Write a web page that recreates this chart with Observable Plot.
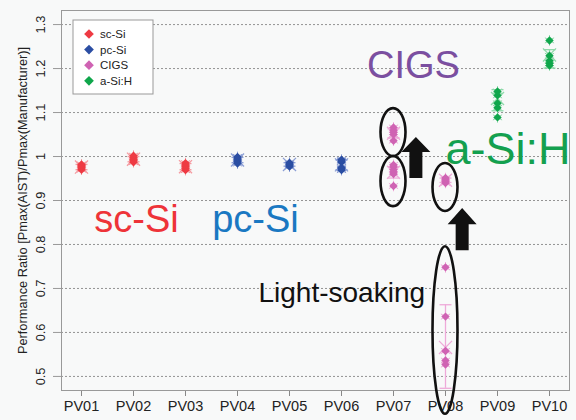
<!DOCTYPE html>
<html><head><meta charset="utf-8">
<script src="https://cdn.jsdelivr.net/npm/d3@7"></script>
<script src="https://cdn.jsdelivr.net/npm/@observablehq/plot@0.6"></script>
<style>
html,body{margin:0;padding:0;background:#f8f9f9;}
body{font-family:"Liberation Sans",Arial,sans-serif;}
</style></head><body><div id="chart"></div>
<script>
// ---------- data ----------
const pvNames = ["PV01","PV02","PV03","PV04","PV05","PV06","PV07","PV08","PV09","PV10"];
const typeNames = ["sc-Si","pc-Si","CIGS","a-Si:H"];
const typeColors = ["#ee3a43","#2b4ea3","#cf63b3","#0fa64b"];
const typeLight = ["#f59aa0","#8c9fd6","#eeaad9","#8fd9aa"];
const yTicks = [0.5,0.6,0.7,0.8,0.9,1.0,1.1,1.2,1.3];
const yTickLabels = ["0.5","0.6","0.7","0.8","0.9","1","1.1","1.2","1.3"];

// measurement groups (PV07 and PV08: before and after light-soaking)
const groupPV = ["PV01","PV02","PV03","PV04","PV05","PV06","PV07","PV07","PV08","PV08","PV09","PV10"];
const groupType = ["sc-Si","sc-Si","sc-Si","pc-Si","pc-Si","pc-Si","CIGS","CIGS","CIGS","CIGS","a-Si:H","a-Si:H"];
const groupValues = [
  [0.970,0.974,0.977,0.980,0.982],
  [0.987,0.991,0.994,0.998,1.002],
  [0.969,0.973,0.977,0.981,0.985],
  [0.984,0.988,0.992,0.996,0.999],
  [0.977,0.980,0.983,0.986],
  [0.969,0.972,0.975,0.987,0.990,0.993],
  [0.933,0.960,0.965,0.970,0.976,0.981],
  [1.036,1.050,1.055,1.060,1.066],
  [0.940,0.944,0.948,0.951],
  [0.748,0.636,0.558,0.536,0.527],
  [1.089,1.111,1.121,1.139,1.148],
  [1.207,1.212,1.218,1.229,1.264]
];
const barMean = [0.976,0.994,0.977,0.992,0.982,0.981,0.964,1.053,0.946,0.566,1.132,1.231];
const barLo   = [0.970,0.988,0.970,0.986,0.978,0.970,0.951,1.043,0.941,0.473,1.104,1.201];
const barHi   = [0.982,1.000,0.984,0.998,0.986,0.992,0.977,1.063,0.951,0.663,1.152,1.243];

// annotations
const annText  = ["sc-Si","pc-Si","CIGS","a-Si:H","Light-soaking"];
const annPV    = ["PV02","PV04","PV07","PV09","PV04"];
const annY     = [0.857,0.857,1.207,1.016,0.689];
const annColor = ["#ee3338","#1a78c2","#7b4fa0","#14a04f","#111111"];

// ellipses around clusters (value ranges)
const ellPV = ["PV07","PV07","PV08","PV08"];
const ellLo = [1.000,0.886,0.875,0.414];
const ellHi = [1.109,1.000,0.984,0.795];

// arrows (light-soaking improvement)
const arrowPV = ["PV07","PV08"];
const arrowOffset = [0.44,0.33];
const arrowTip  = [1.043,0.882];
const arrowNeck = [1.009,0.845];
const arrowBase = [0.950,0.786];

// ---------- build ----------
const colorOf = t => typeColors[typeNames.indexOf(t)];
const lightOf = t => typeLight[typeNames.indexOf(t)];
const points = [];
groupValues.forEach((vals,i) => vals.forEach(v => points.push({pv: groupPV[i], type: groupType[i], v})));
const bars = groupPV.map((pv,i) => ({pv, type: groupType[i], mean: barMean[i], lo: barLo[i], hi: barHi[i]}));
const capEnds = bars.flatMap(b => [{pv:b.pv,type:b.type,v:b.lo},{pv:b.pv,type:b.type,v:b.hi}]);
const hline = {draw(ctx,size){const w=Math.sqrt(size/Math.PI); ctx.moveTo(-w,0); ctx.lineTo(w,0);}};
const ann = i => [{t: annText[i], pv: annPV[i], y: annY[i], c: annColor[i]}];
const annOpts = [
  {fontSize: 38, dx: 3, textAnchor: "middle"},
  {fontSize: 38, dx: 18, textAnchor: "middle"},
  {fontSize: 38, dx: 20, textAnchor: "middle"},
  {fontSize: 45, dx: -52, textAnchor: "start"},
  {fontSize: 28, dx: 21, textAnchor: "start"}
];

const plot = Plot.plot({
  width: 576, height: 420,
  marginLeft: 61, marginRight: 7, marginTop: 10, marginBottom: 30,
  style: {background: "#f8f9f9", fontFamily: "'Liberation Sans', Arial, sans-serif", overflow: "visible"},
  x: {type: "point", domain: pvNames, padding: 0.36, label: null},
  y: {domain: [0.468, 1.332], label: null},
  marks: [
    Plot.ruleY(yTicks, {stroke: "#888", strokeDasharray: "2,2", strokeWidth: 0.9}),
    Plot.axisY(yTicks, {tickSize: 8, tickFormat: () => "", stroke: "#999", label: null}),
    Plot.text(yTicks, {y: d => d, text: d => yTickLabels[yTicks.indexOf(d)], frameAnchor: "left", textAnchor: "middle", dx: -21, rotate: -90, fontSize: 12.8, fill: "#222"}),
    Plot.text(["Performance Ratio [Pmax(AIST)/Pmax(Manufacturer)]"], {frameAnchor: "left", textAnchor: "middle", dx: -39, rotate: -90, fontSize: 12.8, fill: "#222"}),
    Plot.axisX({tickSize: 6, tickPadding: 4, fontSize: 14.5, stroke: "#888", color: "#222", label: null}),
    Plot.frame({stroke: "#999"}),
    Plot.ruleX(bars, {x: "pv", y1: "lo", y2: "hi", stroke: d => lightOf(d.type), strokeWidth: 1.3}),
    Plot.dot(capEnds, {x: "pv", y: "v", symbol: hline, r: 6, stroke: d => lightOf(d.type), strokeWidth: 1.3}),
    Plot.dot(points, {x: "pv", y: "v", symbol: "asterisk", r: 5, stroke: d => lightOf(d.type), strokeWidth: 1}),
    Plot.dot(bars, {x: "pv", y: "mean", symbol: "times", r: 6, stroke: d => lightOf(d.type), strokeWidth: 1.3}),
    Plot.dot(points, {x: "pv", y: "v", symbol: "diamond2", r: 3.8, fill: d => colorOf(d.type), stroke: "none"}),
    ...annText.map((t,i) => Plot.text(ann(i), {x: "pv", y: "y", text: "t", fill: "c", ...annOpts[i]}))
  ]
});

const sx = plot.scale("x"), sy = plot.scale("y");
const step = sx.apply("PV02") - sx.apply("PV01");
const svg = d3.select(plot);
const g = svg.append("g");
ellPV.forEach((pv,i) => {
  const y1 = sy.apply(ellHi[i]), y2 = sy.apply(ellLo[i]);
  g.append("ellipse").attr("cx", sx.apply(pv)).attr("cy", (y1+y2)/2)
    .attr("rx", 12.5).attr("ry", (y2-y1)/2)
    .attr("fill","none").attr("stroke","#111").attr("stroke-width",2.6);
});
arrowPV.forEach((pv,i) => {
  const cx = sx.apply(pv) + arrowOffset[i]*step;
  const t = sy.apply(arrowTip[i]), n = sy.apply(arrowNeck[i]), b = sy.apply(arrowBase[i]);
  const hw = 14.5, sw = 6.5;
  const pts = [[cx,t],[cx+hw,n],[cx+sw,n],[cx+sw,b],[cx-sw,b],[cx-sw,n],[cx-hw,n]];
  g.append("polygon").attr("points", pts.map(p=>p.join(",")).join(" ")).attr("fill","#111");
});
// legend
const lg = svg.append("g").attr("transform","translate(73,20)");
lg.append("rect").attr("width",80).attr("height",74).attr("fill","#fff").attr("stroke","#999");
typeNames.forEach((t,i) => {
  const y = 14 + i*15.6;
  lg.append("path").attr("d", d3.symbol(d3.symbolDiamond2, 60)()).attr("transform",`translate(16,${y})`).attr("fill", typeColors[i]);
  lg.append("text").attr("x",27).attr("y",y).attr("dy","0.35em").attr("text-anchor","start").attr("font-size",11.5).attr("fill","#222").text(t);
});
document.getElementById("chart").appendChild(plot);
</script></body></html>
